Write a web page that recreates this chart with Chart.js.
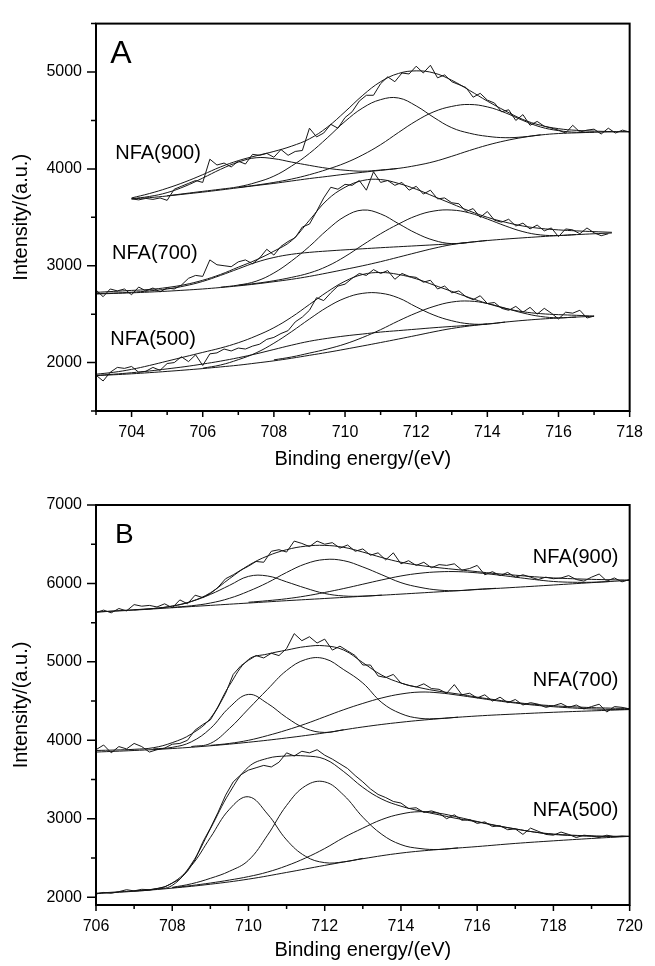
<!DOCTYPE html>
<html>
<head>
<meta charset="utf-8">
<script src="https://cdn.jsdelivr.net/npm/chart.js@4.4.1/dist/chart.umd.min.js"></script>
<style>
  html, body { margin: 0; padding: 0; background: #fff; }
  #wrap { position: relative; width: 655px; height: 966px; }
  canvas { position: absolute; left: 0; }
  #chartA { top: 0; }
  #chartB { top: 475px; }
</style>
</head>
<body>
<div id="wrap">
  <canvas id="chartA" width="655" height="475"></canvas>
  <canvas id="chartB" width="655" height="491"></canvas>
</div>
<script>
// ---- axis ticks (labels shown on the multiples of 1000 / even energies) ----
const yTicksA = [1500,2000,2500,3000,3500,4000,4500,5000,5500];
const yTicksB = [2000,2500,3000,3500,4000,4500,5000,5500,6000,6500,7000];

// ---- panel A (raw: 0.2 eV grid, fitted curves: 0.5 eV grid) ----
const rawA900 = [3690,3680,3695,3685,3700,3675,3790,3820,3850,3880,3860,4100,4040,4060,4020,4080,4050,4150,4140,4160,
  4120,4200,4140,4180,4190,4420,4330,4370,4460,4420,4530,4590,4700,4760,4760,4880,4950,4900,4990,4980,
  5060,4990,5070,4940,4970,4900,4870,4840,4740,4780,4710,4680,4590,4610,4500,4560,4450,4490,4440,4420,
  4400,4370,4450,4380,4400,4410,4360,4420,4370,4400,4380];
const envA900 = [3700,3745,3800,3865,3940,4020,4085,4135,4180,4235,4310,4430,4590,4760,4900,4985,5012,4990,4915,4810,
  4700,4600,4510,4450,4415,4398,4390,4385,4382];
const bgA900 = [3690,3703,3720,3740,3760,3782,3805,3828,3850,3875,3900,3922,3945,3965,3985,4005,4035,4075,4130,4190,
  4245,4290,4325,4350,4365,4372,4378,4382,4385];
const p1A900 = [3692,3715,3755,3820,3905,3995,4070,4115,4105,4070,4036,4006,3986,3976,3988,4005];
const p2A900 = [3722,3745,3768,3790,3815,3860,3925,4030,4160,4320,4490,4630,4715,4732,4650,4530,4425,4368,4336,4322,4330,4352];
const p3A900 = [3808,3832,3860,3895,3940,3995,4060,4145,4250,4375,4495,4590,4645,4665,4640,4580,4500,4432,4395,4378,4380];

const rawA700 = [2750,2680,2760,2740,2760,2700,2780,2740,2770,2730,2770,2760,2800,2870,2900,2890,3060,3010,3000,2990,
  3040,3060,3020,3080,3170,3110,3200,3250,3290,3400,3430,3560,3700,3810,3790,3840,3830,3880,3780,3970,
  3860,3880,3830,3860,3780,3820,3740,3780,3690,3700,3650,3640,3560,3590,3500,3560,3470,3450,3480,3410,
  3440,3380,3420,3360,3390,3300,3380,3370,3330,3390,3340,3310,3330];
const envA700 = [2725,2735,2745,2755,2775,2805,2850,2910,2985,3060,3150,3260,3470,3680,3810,3880,3890,3850,3790,3715,
  3640,3565,3500,3450,3410,3385,3370,3360,3352,3345];
const bgA700 = [2708,2714,2720,2728,2737,2748,2760,2775,2792,2812,2835,2860,2890,2925,2962,3000,3042,3088,3135,3180,
  3218,3242,3260,3275,3288,3300,3311,3321,3330,3338];
const p1A700 = [2712,2718,2726,2740,2760,2792,2838,2900,2968,3035,3085,3118,3138,3152,3164,3175,3186,3196,3206,3216,3226,3240];
const p2A700 = [2778,2800,2840,2925,3050,3200,3370,3510,3575,3535,3435,3335,3262,3228,3242,3262];
const p3A700 = [2798,2818,2845,2880,2925,2995,3095,3215,3330,3430,3515,3565,3575,3545,3482,3412,3352,3318,3312,3322];

const rawA500 = [1870,1810,1900,1950,1940,1960,1900,1910,1950,1920,1990,2000,2060,2010,2080,1970,2090,2100,2140,2120,
  2150,2140,2170,2190,2240,2260,2300,2330,2420,2470,2540,2670,2640,2720,2790,2810,2870,2920,2900,2960,
  2920,2950,2860,2920,2890,2880,2830,2850,2760,2790,2720,2740,2680,2650,2690,2610,2620,2560,2540,2580,
  2520,2570,2500,2560,2510,2450,2520,2510,2540,2460,2480];
const envA500 = [1880,1900,1930,1970,2015,2060,2105,2150,2205,2275,2360,2470,2600,2730,2840,2910,2930,2910,2865,2800,
  2735,2670,2610,2560,2525,2505,2495,2488,2480];
const bgA500 = [1865,1874,1884,1896,1909,1923,1938,1955,1973,1995,2018,2045,2075,2105,2138,2172,2207,2243,2280,2318,
  2352,2378,2398,2418,2435,2449,2460,2470,2478];
const p1A500 = [1868,1880,1895,1913,1935,1958,1985,2015,2050,2090,2135,2180,2220,2250,2275,2295,2315,2330,2345,2360,2373,2385,2398];
const p2A500 = [1942,1975,2030,2100,2200,2320,2450,2572,2665,2715,2716,2668,2575,2490,2432,2400,2398,2418];
const p3A500 = [2028,2058,2098,2140,2192,2260,2340,2430,2512,2580,2625,2635,2610,2562,2512,2476,2462,2470];

// ---- panel B ----
const rawB900 = [5630,5660,5625,5680,5650,5730,5710,5720,5700,5740,5690,5790,5740,5850,5820,5870,5950,6060,6110,6170,
  6220,6280,6270,6410,6430,6400,6540,6510,6470,6540,6500,6520,6450,6490,6410,6440,6360,6390,6300,6390,
  6250,6290,6230,6270,6200,6240,6230,6250,6170,6190,6230,6110,6150,6100,6140,6080,6110,6080,6050,6080,
  6060,6070,6100,6050,6030,6080,6120,6030,6070,6020,6050];
const envB900 = [5635,5650,5665,5680,5710,5770,5880,6060,6230,6350,6430,6475,6485,6460,6400,6330,6270,6230,6200,6175,
  6150,6125,6105,6085,6070,6060,6052,6047,6043];
const bgB900 = [5635,5660,5690,5720,5750,5780,5808,5836,5864,5893,5922,5950,5980,6010,6040];
const p1B900 = [5663,5680,5712,5770,5860,5975,6090,6095,6020,5940,5872,5840,5838,5851];
const p2B900 = [5695,5715,5750,5810,5900,6010,6140,6250,6305,6290,6210,6110,6010,5950,5915,5908,5925,5938];
const p3B900 = [5760,5780,5805,5840,5885,5935,5990,6045,6095,6130,6148,6150,6135,6110,6080,6050,6025,6015,6015,6025];

const rawB700 = [3880,3940,3840,3920,3890,3960,3920,3850,3880,3900,3950,3960,4000,4130,4200,4260,4420,4600,4840,4950,
  5020,5080,5050,5110,5080,5170,5360,5270,5320,5240,5290,5150,5200,5140,5080,4960,4960,4820,4800,4840,
  4730,4700,4680,4720,4660,4650,4600,4710,4580,4600,4540,4580,4500,4550,4480,4520,4450,4480,4460,4420,
  4440,4470,4420,4450,4400,4430,4460,4360,4430,4420,4400];
const envB700 = [3870,3876,3885,3905,3970,4080,4280,4700,5030,5100,5150,5195,5205,5150,4990,4830,4730,4670,4625,4590,
  4550,4515,4483,4458,4440,4427,4417,4410,4405];
const bgB700 = [3850,3870,3895,3930,3975,4030,4095,4170,4230,4275,4310,4335,4357,4375,4392];
const p1B700 = [3890,3910,3980,4150,4420,4585,4470,4290,4150,4100,4135];
const p2B700 = [3920,3960,4150,4400,4650,4890,5030,5040,4900,4730,4480,4340,4280,4278,4295];
const p3B700 = [3935,3960,4000,4060,4130,4210,4300,4390,4470,4540,4590,4615,4605,4575,4540,4505,4475,4448,4428,4412,4400,4394,4393];

const rawB500 = [2040,2060,2050,2070,2095,2080,2100,2095,2110,2130,2180,2230,2330,2480,2700,2880,3080,3300,3470,3560,
  3620,3650,3680,3660,3720,3840,3800,3860,3840,3880,3810,3760,3700,3640,3550,3470,3380,3310,3270,3220,
  3200,3130,3140,3080,3100,3070,3000,3050,2980,2990,2940,2960,2900,2910,2860,2870,2800,2880,2840,2800,
  2790,2830,2800,2760,2790,2780,2760,2790,2770,2780,2775];
const envB500 = [2050,2065,2080,2100,2150,2420,2870,3330,3660,3770,3800,3800,3760,3600,3400,3250,3160,3100,3050,3000,
  2960,2910,2870,2830,2800,2785,2778,2775,2773];
const bgB500 = [2045,2075,2115,2165,2230,2315,2405,2490,2562,2608,2645,2685,2718,2748,2775];
const p1B500 = [2078,2098,2180,2400,2760,3120,3280,3060,2730,2520,2440,2450,2495];
const p2B500 = [2125,2170,2240,2330,2470,2790,3170,3420,3470,3300,3020,2800,2670,2620,2608,2628];
const p3B500 = [2120,2148,2180,2218,2262,2320,2400,2500,2620,2760,2880,2990,3060,3090,3070,3020,2965,2915,2870,2830,
  2805,2790,2780,2776,2775];

const FONT = "'Liberation Sans', Arial, Helvetica, sans-serif";
const INK = '#161616';

// x values come from the start energy and the step of each recorded series
function series(x0, step, ys) {
  return ys.map((y, i) => ({ x: Math.round((x0 + i * step) * 100) / 100, y: y }));
}

function trace(data, smooth) {
  return {
    data: data,
    borderColor: INK,
    borderWidth: 1,
    pointRadius: 0,
    tension: smooth ? 0.4 : 0,
    fill: false
  };
}

const frameTicks = {
  id: 'frameTicks',
  afterDraw(chart, args, opts) {
    const { ctx, chartArea: a, scales: { x, y } } = chart;
    ctx.save();
    ctx.strokeStyle = '#000';
    ctx.lineWidth = 1.5;
    ctx.beginPath();
    x.ticks.forEach(t => {
      const px = x.getPixelForValue(t.value);
      const len = t.value % 2 === 0 ? 6 : 4;
      ctx.moveTo(px, a.bottom);
      ctx.lineTo(px, a.bottom + len);
    });
    y.ticks.forEach(t => {
      const py = y.getPixelForValue(t.value);
      const len = t.value % 1000 === 0 ? 9 : 5;
      ctx.moveTo(a.left, py);
      ctx.lineTo(a.left - len, py);
    });
    ctx.stroke();
    ctx.lineWidth = 2;
    ctx.strokeRect(a.left, a.top, a.right - a.left, a.bottom - a.top);

    ctx.fillStyle = '#000';
    ctx.textAlign = 'left';
    ctx.textBaseline = 'middle';
    opts.notes.forEach(n => {
      ctx.font = n.size + 'px ' + FONT;
      ctx.fillText(n.text, x.getPixelForValue(n.x), y.getPixelForValue(n.y));
    });
    ctx.restore();
  }
};

function makeChart(id, datasets, xRange, yRange, yTicks, padding, xAxisHeight, notes) {
  return new Chart(document.getElementById(id), {
    type: 'line',
    data: { datasets: datasets },
    options: {
      responsive: false,
      animation: false,
      devicePixelRatio: 1,
      layout: { padding: padding },
      plugins: {
        legend: { display: false },
        tooltip: { enabled: false },
        frameTicks: { notes: notes }
      },
      scales: {
        x: {
          type: 'linear',
          min: xRange[0],
          max: xRange[1],
          grid: { display: false, drawTicks: false },
          border: { display: false },
          ticks: {
            stepSize: 1,
            autoSkip: false,
            maxRotation: 0,
            padding: 12,
            color: '#000',
            font: { family: FONT, size: 16 },
            callback: v => (v % 2 === 0 ? String(v) : '')
          },
          title: {
            display: true,
            text: 'Binding energy/(eV)',
            color: '#000',
            font: { family: FONT, size: 20 },
            padding: { top: 0, bottom: 4 }
          },
          afterFit: s => { s.height = xAxisHeight; }
        },
        y: {
          type: 'linear',
          min: yRange[0],
          max: yRange[1],
          grid: { display: false, drawTicks: false },
          border: { display: false },
          afterBuildTicks: s => { s.ticks = yTicks.map(v => ({ value: v })); },
          ticks: {
            autoSkip: false,
            padding: 14,
            color: '#000',
            font: { family: FONT, size: 16 },
            callback: v => (v % 1000 === 0 ? String(v) : '')
          },
          title: {
            display: true,
            text: 'Intensity/(a.u.)',
            color: '#000',
            font: { family: FONT, size: 20 },
            padding: { top: 9, bottom: 0 }
          },
          afterFit: s => { s.width = 96; }
        }
      }
    },
    plugins: [frameTicks]
  });
}

const datasetsA = [
  trace(series(704.0, 0.2, rawA900), false),
  trace(series(704.0, 0.5, envA900), true),
  trace(series(704.0, 0.5, bgA900), true),
  trace(series(704.0, 0.5, p1A900), true),
  trace(series(705.0, 0.5, p2A900), true),
  trace(series(707.0, 0.5, p3A900), true),

  trace(series(703.0, 0.2, rawA700), false),
  trace(series(703.0, 0.5, envA700), true),
  trace(series(703.0, 0.5, bgA700), true),
  trace(series(703.0, 0.5, p1A700), true),
  trace(series(706.5, 0.5, p2A700), true),
  trace(series(707.0, 0.5, p3A700), true),

  trace(series(703.0, 0.2, rawA500), false),
  trace(series(703.0, 0.5, envA500), true),
  trace(series(703.0, 0.5, bgA500), true),
  trace(series(703.0, 0.5, p1A500), true),
  trace(series(706.0, 0.5, p2A500), true),
  trace(series(708.0, 0.5, p3A500), true)
];

const datasetsB = [
  trace(series(706.0, 0.2, rawB900), false),
  trace(series(706.0, 0.5, envB900), true),
  trace(series(706.0, 1.0, bgB900), true),
  trace(series(707.0, 0.5, p1B900), true),
  trace(series(708.0, 0.5, p2B900), true),
  trace(series(710.0, 0.5, p3B900), true),

  trace(series(706.0, 0.2, rawB700), false),
  trace(series(706.0, 0.5, envB700), true),
  trace(series(706.0, 1.0, bgB700), true),
  trace(series(707.5, 0.5, p1B700), true),
  trace(series(708.5, 0.5, p2B700), true),
  trace(series(709.0, 0.5, p3B700), true),

  trace(series(706.0, 0.2, rawB500), false),
  trace(series(706.0, 0.5, envB500), true),
  trace(series(706.0, 1.0, bgB500), true),
  trace(series(707.0, 0.5, p1B500), true),
  trace(series(708.0, 0.5, p2B500), true),
  trace(series(708.0, 0.5, p3B500), true)
];

makeChart('chartA', datasetsA, [703, 718], [1500, 5500], yTicksA,
  { top: 16, right: 19.5, bottom: 0, left: 0 }, 64,
  [
    { text: 'A', x: 703.4, y: 5184, size: 32 },
    { text: 'NFA(900)', x: 703.54, y: 4162, size: 20 },
    { text: 'NFA(700)', x: 703.45, y: 3131, size: 20 },
    { text: 'NFA(500)', x: 703.4, y: 2242, size: 20 }
  ]);

makeChart('chartB', datasetsB, [706, 720], [1900, 7000], yTicksB,
  { top: 30, right: 16.7, bottom: 0, left: 0 }, 61,
  [
    { text: 'B', x: 706.5, y: 6617, size: 28 },
    { text: 'NFA(900)', x: 717.46, y: 6336, size: 20 },
    { text: 'NFA(700)', x: 717.46, y: 4765, size: 20 },
    { text: 'NFA(500)', x: 717.46, y: 3105, size: 20 }
  ]);
</script>
</body>
</html>
